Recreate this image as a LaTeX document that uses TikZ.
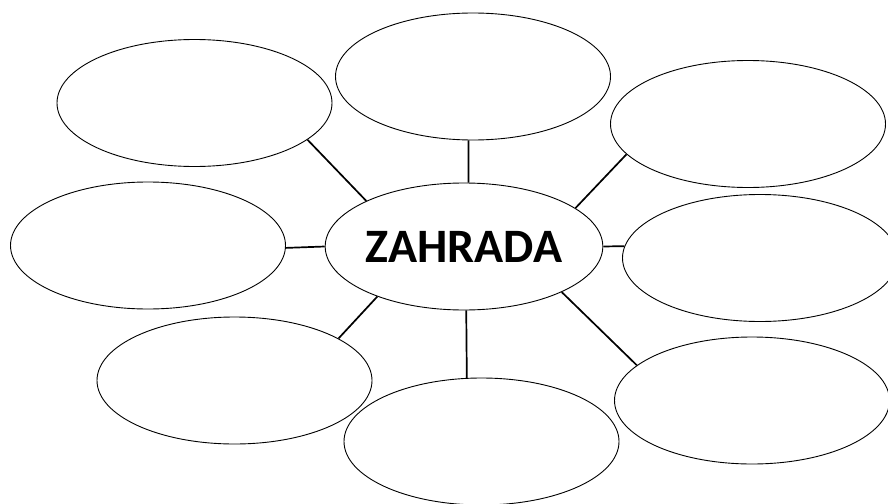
\documentclass[tikz,border=0pt]{standalone}
\usepackage{fontspec}
\setmainfont{Carlito}
\usetikzlibrary{shapes.geometric}

\begin{document}
\begin{tikzpicture}[x=1pt,y=-1pt]
  \tikzset{bubble/.style={ellipse,draw,line width=.9pt,minimum width=275pt,minimum height=127pt,inner sep=0pt},
           spoke/.style={line width=1.7pt}}

  \clip (0,0) rectangle (888,503);
  \useasboundingbox (0,0) rectangle (888,503);

  \node[bubble] at (464,246.5) (garden) {\fontsize{48}{48}\selectfont\bfseries ZAHRADA};

  \node[bubble] at (194.5,103) (topleft) {};
  \node[bubble] at (473,76.5) (topmid) {};
  \node[bubble] at (748,124) (topright) {};
  \node[bubble] at (148,245.5) (midleft) {};
  \node[bubble] at (760,258) (midright) {};
  \node[bubble] at (234.5,380.5) (botleft) {};
  \node[bubble] at (481.5,441.5) (botmid) {};
  \node[bubble] at (752,400.5) (botright) {};

  \foreach \out/\a/\b in {topleft/-18.8/155.8,topmid/-94.5/86.4,topright/-166.2/19,
                          midleft/-1/180,midright/175.8/-.6,botleft/22.7/-150.4,
                          botmid/103.9/-88,botright/163.8/-25.1} {
    \draw[spoke] (\out.\a) -- (garden.\b);
  }
\end{tikzpicture}
\end{document}
